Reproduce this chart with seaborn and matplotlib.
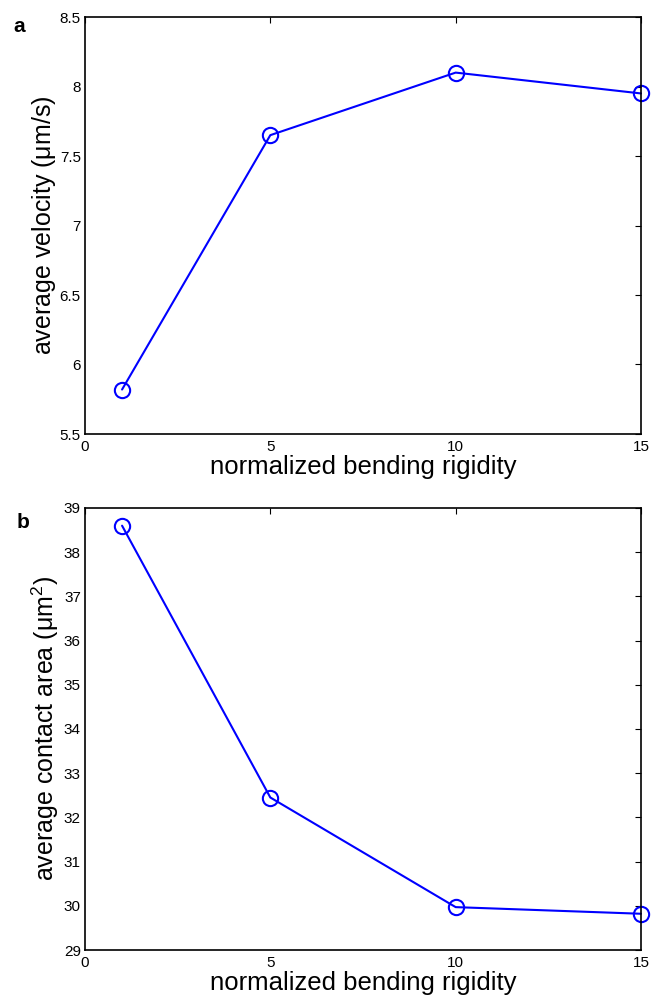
import numpy as np
import pandas as pd
import seaborn as sns
import matplotlib.pyplot as plt

# data
rigidity = [1, 5, 10, 15]
velocity = [5.82, 7.65, 8.10, 7.95]
contact_area = [38.6, 32.45, 29.97, 29.82]

sns.set_theme(style="white")
plt.rcParams['font.family'] = ['Liberation Sans', 'DejaVu Sans']
plt.rcParams['mathtext.fontset'] = 'custom'
plt.rcParams['mathtext.rm'] = 'Liberation Sans'
plt.rcParams['mathtext.it'] = 'Liberation Sans'
plt.rcParams['text.color'] = 'black'
plt.rcParams['axes.labelcolor'] = 'black'

fig = plt.figure(figsize=(6.57, 9.97), dpi=100)
W, H = 657, 997
ax1 = fig.add_axes([85 / W, 1 - 434 / H, (641 - 85) / W, (434 - 17) / H])
ax2 = fig.add_axes([85 / W, 1 - 950 / H, (641 - 85) / W, (950 - 508) / H])

df1 = pd.DataFrame({'x': rigidity, 'y': velocity})
df2 = pd.DataFrame({'x': rigidity, 'y': contact_area})

for ax, df in [(ax1, df1), (ax2, df2)]:
    sns.lineplot(data=df, x='x', y='y', ax=ax, color='#0000ff', lw=1.5,
                 marker='o', markersize=11, markerfacecolor='none',
                 markeredgecolor='#0000ff', markeredgewidth=1.5, clip_on=False)
    ax.set_xlim(0, 15)
    ax.set_xticks([0, 5, 10, 15])
    ax.tick_params(direction='in', top=True, right=True, length=4, width=0.8,
                   labelsize=11, color='black', labelcolor='black', pad=3)
    ax.tick_params(axis='x', pad=4)
    for s in ax.spines.values():
        s.set_visible(True)
        s.set_color('black')
        s.set_linewidth(1.2)
    ax.set_xlabel('normalized bending rigidity', fontsize=18.5, labelpad=1)
    ax.grid(False)

ax1.set_ylim(5.5, 8.5)
ax1.set_yticks([5.5, 6, 6.5, 7, 7.5, 8, 8.5])
ax1.set_yticklabels(['5.5', '6', '6.5', '7', '7.5', '8', '8.5'])
ax1.set_ylabel('average velocity ($\\mathrm{\\mu}$m/s)', fontsize=18)
ax1.yaxis.set_label_coords(-0.049, 0.5)

ax2.set_ylim(29, 39)
ax2.set_yticks(range(29, 40))
ax2.set_ylabel('average contact area ($\\mathrm{\\mu}$m$^2$)', fontsize=18)
ax2.yaxis.set_label_coords(-0.043, 0.5)

fig.text(13 / W, 1 - 26 / H, 'a', fontsize=15, fontweight='bold', va='center')
fig.text(17 / W, 1 - 522 / H, 'b', fontsize=15, fontweight='bold', va='center')

fig.savefig('out.png', dpi=100)
